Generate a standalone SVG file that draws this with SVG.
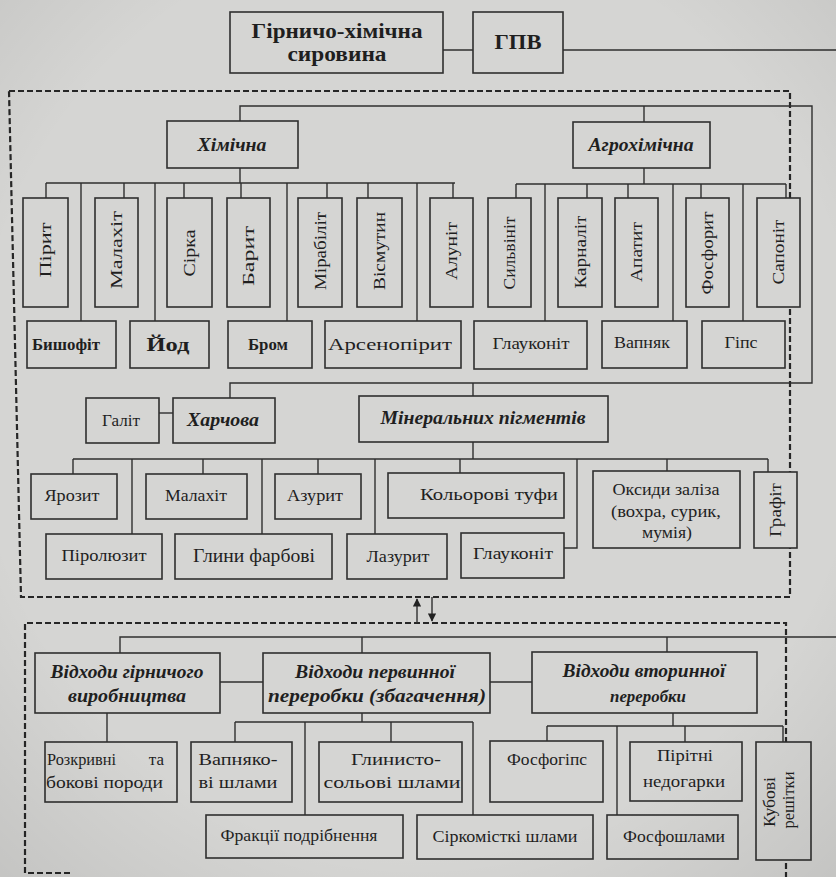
<svg xmlns="http://www.w3.org/2000/svg" width="836" height="877" viewBox="0 0 836 877">
  <defs>
    <style>
      .bg { fill: #d5d5d3; }
      .box { fill: #d5d5d3; stroke: #2f2f2f; stroke-width: 1.6; }
      .ln { fill: none; stroke: #2f2f2f; stroke-width: 1.4; }
      .dash { fill: none; stroke: #262626; stroke-width: 2.2; stroke-dasharray: 6 3; }
      text { font-family: "Liberation Serif", "Times New Roman", serif; fill: #1f1f1f; text-anchor: middle; }
      .t { font-size: 17px; }
      .b { font-size: 16px; font-weight: bold; }
      .v { font-size: 17px; }
      .cat { font-size: 18px; font-weight: bold; font-style: italic; }
      .title { font-size: 21px; font-weight: bold; }
    </style>
    <radialGradient id="shade" cx="50%" cy="45%" r="75%">
      <stop offset="0.7" stop-color="#000" stop-opacity="0"/>
      <stop offset="1" stop-color="#000" stop-opacity="0.08"/>
    </radialGradient>
    <marker id="ah" viewBox="0 0 10 10" refX="9" refY="5" markerWidth="6" markerHeight="6" orient="auto-start-reverse">
      <path d="M0,0 L10,5 L0,10 Z" fill="#222"/>
    </marker>
  </defs>

  <rect class="bg" x="0" y="0" width="836" height="877"/>

  <!-- dashed frames -->
  <g id="frames">
    <path class="dash" d="M9,91 H790 V597 H21 Z"/>
    <path class="dash" d="M70,873 H25 V623 H786 V877"/>
  </g>

  <!-- connectors -->
  <g id="connectors">
    <path class="ln" d="M443,50 H473 M563,50 H836"/>
    <path class="ln" d="M240,121 V106 H812 V383 H230 V398 M644,106 V122 M473,383 V396"/>
    <!-- chemical bus -->
    <path class="ln" d="M240,168 V183 M46,183 H455
      M46,183 V198 M124,183 V198 M184,183 V198 M241,183 V198 M327,183 V198 M368,183 V198 M453,183 V198
      M81,183 V321 M155,183 V321 M287,183 V321 M417,183 V321"/>
    <!-- agrochemical bus -->
    <path class="ln" d="M644,168 V184 M516,184 H786
      M516,184 V198 M587,184 V198 M628,184 V198 M701,184 V198 M786,184 V198
      M545,184 V321 M673,184 V321 M743,184 V321"/>
    <!-- food / pigments -->
    <path class="ln" d="M159,413 H173"/>
    <path class="ln" d="M473,442 V459 M73,459 H768
      M73,459 V474 M203,459 V474 M318,459 V474 M460,459 V473 M667,459 V471 M768,459 V472
      M132,459 V534 M262,459 V534 M375,459 V534 M577,459 V548 H564"/>
    <!-- link between frames -->
    <path class="ln" d="M417,623 V599" marker-end="url(#ah)"/>
    <path class="ln" d="M432,597 V621" marker-end="url(#ah)"/>
    <!-- waste -->
    <path class="ln" d="M120,654 V637 H836 M362,637 V653 M667,637 V652 M220,682 H263 M490,682 H532 M107,713 V742"/>
    <path class="ln" d="M362,713 V722 M235,722 H473 M235,722 V742 M391,722 V742 M305,722 V815 M473,722 V815"/>
    <path class="ln" d="M673,713 V726 M547,726 H783 M547,726 V741 M685,726 V742 M783,726 V742 M617,726 V815"/>
  </g>

  <!-- top -->
  <g id="n-raw"><rect class="box" x="230" y="12" width="213" height="61"/>
    <text class="title" x="337" y="38" textLength="171" lengthAdjust="spacingAndGlyphs">Гірничо-хімічна</text>
    <text class="title" x="337" y="61" textLength="99" lengthAdjust="spacingAndGlyphs">сировина</text></g>
  <g id="n-gpv"><rect class="box" x="473" y="12" width="90" height="61"/><text class="title" x="518" y="49" textLength="47" lengthAdjust="spacingAndGlyphs">ГПВ</text></g>

  <g id="n-chem"><rect class="box" x="167" y="121" width="131" height="47"/><text class="cat" x="232" y="151" textLength="69" lengthAdjust="spacingAndGlyphs">Хімічна</text></g>
  <g id="n-agro"><rect class="box" x="573" y="122" width="137" height="46"/><text class="cat" x="641" y="151" textLength="105" lengthAdjust="spacingAndGlyphs">Агрохімічна</text></g>

  <!-- vertical mineral boxes -->
  <g id="n-pyrite"><rect class="box" x="23" y="198" width="45" height="109"/><text class="v" transform="translate(51,250) rotate(-90)" textLength="55" lengthAdjust="spacingAndGlyphs">Пірит</text></g>
  <g id="n-malachite1"><rect class="box" x="95" y="198" width="43" height="109"/><text class="v" transform="translate(122,250) rotate(-90)" textLength="78" lengthAdjust="spacingAndGlyphs">Малахіт</text></g>
  <g id="n-sulfur"><rect class="box" x="167" y="198" width="45" height="109"/><text class="v" transform="translate(195,253) rotate(-90)" textLength="47" lengthAdjust="spacingAndGlyphs">Сірка</text></g>
  <g id="n-barite"><rect class="box" x="227" y="198" width="43" height="109"/><text class="v" transform="translate(254,256) rotate(-90)" textLength="60" lengthAdjust="spacingAndGlyphs">Барит</text></g>
  <g id="n-mirabilite"><rect class="box" x="298" y="198" width="44" height="109"/><text class="v" transform="translate(326,251) rotate(-90)" textLength="78" lengthAdjust="spacingAndGlyphs">Мірабіліт</text></g>
  <g id="n-bismuthinite"><rect class="box" x="357" y="198" width="45" height="109"/><text class="v" transform="translate(385,251) rotate(-90)" textLength="78" lengthAdjust="spacingAndGlyphs">Вісмутин</text></g>
  <g id="n-alunite"><rect class="box" x="430" y="198" width="43" height="109"/><text class="v" transform="translate(457,251) rotate(-90)" textLength="58" lengthAdjust="spacingAndGlyphs">Алуніт</text></g>
  <g id="n-sylvinite"><rect class="box" x="488" y="198" width="43" height="109"/><text class="v" transform="translate(515,253) rotate(-90)" textLength="73" lengthAdjust="spacingAndGlyphs">Сильвініт</text></g>
  <g id="n-carnallite"><rect class="box" x="558" y="198" width="44" height="109"/><text class="v" transform="translate(586,252) rotate(-90)" textLength="73" lengthAdjust="spacingAndGlyphs">Карналіт</text></g>
  <g id="n-apatite"><rect class="box" x="615" y="198" width="43" height="109"/><text class="v" transform="translate(642,252) rotate(-90)" textLength="60" lengthAdjust="spacingAndGlyphs">Апатит</text></g>
  <g id="n-phosphorite"><rect class="box" x="686" y="198" width="43" height="109"/><text class="v" transform="translate(713,253) rotate(-90)" textLength="83" lengthAdjust="spacingAndGlyphs">Фосфорит</text></g>
  <g id="n-saponite"><rect class="box" x="757" y="198" width="43" height="109"/><text class="v" transform="translate(784,252) rotate(-90)" textLength="65" lengthAdjust="spacingAndGlyphs">Сапоніт</text></g>

  <!-- second row -->
  <g id="n-bischofite"><rect class="box" x="27" y="321" width="89" height="47"/><text class="b" x="66" y="350" textLength="68" lengthAdjust="spacingAndGlyphs">Бишофіт</text></g>
  <g id="n-iodine"><rect class="box" x="130" y="321" width="79" height="47"/><text class="b" x="168" y="351" textLength="43" lengthAdjust="spacingAndGlyphs" style="font-size:18px">Йод</text></g>
  <g id="n-bromine"><rect class="box" x="228" y="321" width="84" height="47"/><text class="b" x="268" y="350" textLength="40" lengthAdjust="spacingAndGlyphs">Бром</text></g>
  <g id="n-arsenopyrite"><rect class="box" x="325" y="321" width="136" height="47"/><text class="t" x="390" y="350" textLength="124" lengthAdjust="spacingAndGlyphs">Арсенопірит</text></g>
  <g id="n-glauconite1"><rect class="box" x="474" y="321" width="113" height="48"/><text class="t" x="531" y="349" textLength="77" lengthAdjust="spacingAndGlyphs">Глауконіт</text></g>
  <g id="n-limestone"><rect class="box" x="602" y="321" width="85" height="47"/><text class="t" x="642" y="348" textLength="56" lengthAdjust="spacingAndGlyphs">Вапняк</text></g>
  <g id="n-gypsum"><rect class="box" x="702" y="321" width="83" height="47"/><text class="t" x="741" y="348" textLength="33" lengthAdjust="spacingAndGlyphs">Гіпс</text></g>

  <!-- food and pigments -->
  <g id="n-halite"><rect class="box" x="86" y="398" width="73" height="45"/><text class="t" x="121" y="426" textLength="38" lengthAdjust="spacingAndGlyphs">Галіт</text></g>
  <g id="n-food"><rect class="box" x="173" y="398" width="102" height="45"/><text class="cat" x="223" y="426" textLength="72" lengthAdjust="spacingAndGlyphs">Харчова</text></g>
  <g id="n-pigments"><rect class="box" x="359" y="396" width="249" height="46"/><text class="cat" x="483" y="424" textLength="205" lengthAdjust="spacingAndGlyphs">Мінеральних пігментів</text></g>

  <g id="n-jarosite"><rect class="box" x="31" y="474" width="86" height="45"/><text class="t" x="72" y="501" textLength="55" lengthAdjust="spacingAndGlyphs">Ярозит</text></g>
  <g id="n-malachite2"><rect class="box" x="146" y="474" width="101" height="45"/><text class="t" x="196" y="501" textLength="62" lengthAdjust="spacingAndGlyphs">Малахіт</text></g>
  <g id="n-azurite"><rect class="box" x="275" y="474" width="86" height="45"/><text class="t" x="315" y="501" textLength="56" lengthAdjust="spacingAndGlyphs">Азурит</text></g>
  <g id="n-tuffs"><rect class="box" x="388" y="473" width="176" height="45"/><text class="t" x="489" y="500" textLength="138" lengthAdjust="spacingAndGlyphs">Кольорові туфи</text></g>
  <g id="n-ironoxides"><rect class="box" x="593" y="471" width="147" height="77"/>
    <text class="t" x="666" y="495" textLength="107" lengthAdjust="spacingAndGlyphs">Оксиди заліза</text>
    <text class="t" x="666" y="517" textLength="110" lengthAdjust="spacingAndGlyphs">(вохра, сурик,</text>
    <text class="t" x="667" y="538" textLength="50" lengthAdjust="spacingAndGlyphs">мумія)</text></g>
  <g id="n-graphite"><rect class="box" x="754" y="472" width="43" height="76"/><text class="v" transform="translate(781,510) rotate(-90)" textLength="54" lengthAdjust="spacingAndGlyphs">Графіт</text></g>

  <g id="n-pyrolusite"><rect class="box" x="46" y="534" width="116" height="45"/><text class="t" x="104" y="561" textLength="85" lengthAdjust="spacingAndGlyphs">Піролюзит</text></g>
  <g id="n-clays"><rect class="box" x="175" y="534" width="157" height="45"/><text class="t" x="254" y="562" textLength="122" lengthAdjust="spacingAndGlyphs" style="font-size:18px">Глини фарбові</text></g>
  <g id="n-lazurite"><rect class="box" x="347" y="534" width="100" height="45"/><text class="t" x="398" y="562" textLength="63" lengthAdjust="spacingAndGlyphs">Лазурит</text></g>
  <g id="n-glauconite2"><rect class="box" x="461" y="533" width="103" height="45"/><text class="t" x="513" y="559" textLength="80" lengthAdjust="spacingAndGlyphs">Глауконіт</text></g>

  <!-- waste section -->
  <g id="n-minewaste"><rect class="box" x="35" y="653" width="185" height="60"/>
    <text class="cat" x="127" y="678" textLength="153" lengthAdjust="spacingAndGlyphs">Відходи гірничого</text>
    <text class="cat" x="127" y="702" textLength="118" lengthAdjust="spacingAndGlyphs">виробництва</text></g>
  <g id="n-primary"><rect class="box" x="263" y="653" width="227" height="60"/>
    <text class="cat" x="375" y="678" textLength="160" lengthAdjust="spacingAndGlyphs">Відходи первинної</text>
    <text class="cat" x="377" y="702" textLength="218" lengthAdjust="spacingAndGlyphs">переробки (збагачення)</text></g>
  <g id="n-secondary"><rect class="box" x="532" y="652" width="225" height="61"/>
    <text class="cat" x="644" y="677" textLength="163" lengthAdjust="spacingAndGlyphs">Відходи вторинної</text>
    <text class="cat" x="648" y="702" textLength="76" lengthAdjust="spacingAndGlyphs" style="font-size:17px">переробки</text></g>

  <g id="n-overburden"><rect class="box" x="45" y="742" width="132" height="60"/>
    <text class="t" x="47" y="765" style="text-anchor:start" textLength="69" lengthAdjust="spacingAndGlyphs">Розкривні</text>
    <text class="t" x="164" y="765" style="text-anchor:end">та</text>
    <text class="t" x="46" y="788" style="text-anchor:start" textLength="117" lengthAdjust="spacingAndGlyphs">бокові породи</text></g>
  <g id="n-limesludge"><rect class="box" x="191" y="742" width="101" height="60"/>
    <text class="t" x="238" y="765" textLength="79" lengthAdjust="spacingAndGlyphs">Вапняко-</text>
    <text class="t" x="238" y="788" textLength="79" lengthAdjust="spacingAndGlyphs">ві шлами</text></g>
  <g id="n-claysalt"><rect class="box" x="319" y="742" width="143" height="60"/>
    <text class="t" x="396" y="765" textLength="90" lengthAdjust="spacingAndGlyphs">Глинисто-</text>
    <text class="t" x="392" y="788" textLength="137" lengthAdjust="spacingAndGlyphs">сольові шлами</text></g>
  <g id="n-fractions"><rect class="box" x="206" y="815" width="197" height="43"/><text class="t" x="299" y="841" textLength="157" lengthAdjust="spacingAndGlyphs">Фракції подрібнення</text></g>
  <g id="n-sulfursludge"><rect class="box" x="417" y="815" width="176" height="44"/><text class="t" x="505" y="842" textLength="145" lengthAdjust="spacingAndGlyphs">Сіркомісткі шлами</text></g>
  <g id="n-phosphogypsum"><rect class="box" x="490" y="741" width="113" height="61"/><text class="t" x="547" y="765" textLength="80" lengthAdjust="spacingAndGlyphs">Фосфогіпс</text></g>
  <g id="n-cinders"><rect class="box" x="630" y="742" width="112" height="59"/>
    <text class="t" x="685" y="761" textLength="56" lengthAdjust="spacingAndGlyphs">Пірітні</text>
    <text class="t" x="684" y="787" textLength="82" lengthAdjust="spacingAndGlyphs">недогарки</text></g>
  <g id="n-phosphoslag"><rect class="box" x="607" y="815" width="131" height="44"/><text class="t" x="674" y="842" textLength="102" lengthAdjust="spacingAndGlyphs">Фосфошлами</text></g>
  <g id="n-stillbottoms"><rect class="box" x="756" y="742" width="55" height="118"/>
    <text class="t" transform="translate(775,802) rotate(-90)" textLength="50" lengthAdjust="spacingAndGlyphs">Кубові</text>
    <text class="t" transform="translate(794,800) rotate(-90)" textLength="57" lengthAdjust="spacingAndGlyphs">решітки</text></g>

  <!-- slight darkening toward the edges of the sheet -->
  <rect x="0" y="0" width="836" height="877" fill="url(#shade)" pointer-events="none"/>
</svg>
